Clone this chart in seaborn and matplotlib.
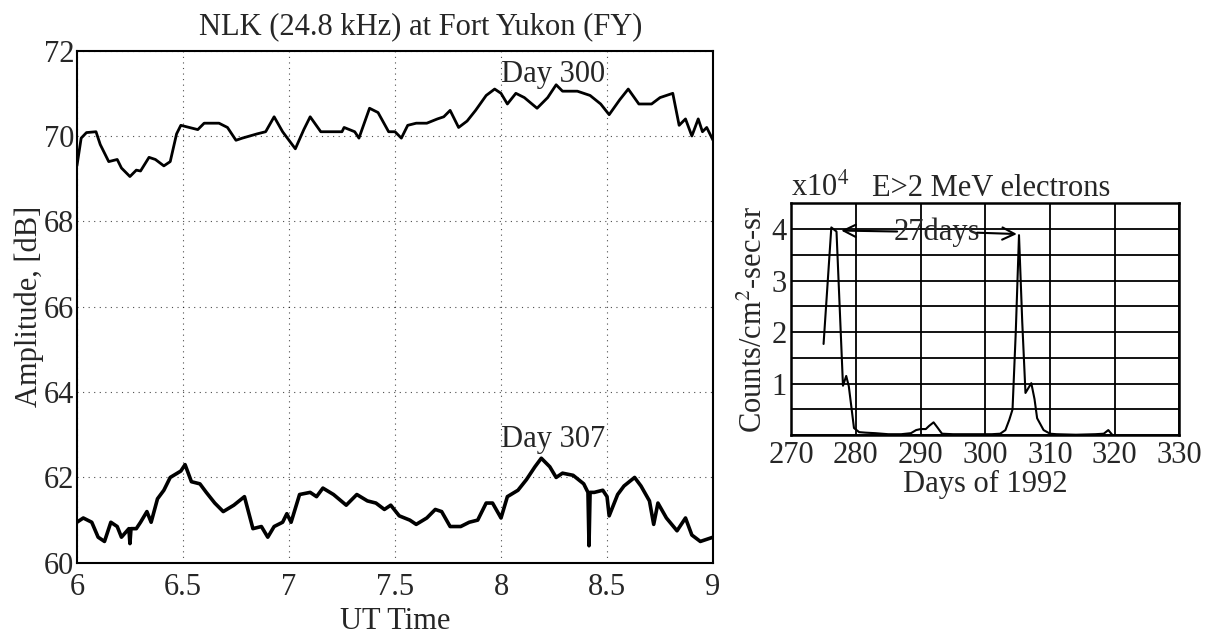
import numpy as np
import pandas as pd
import matplotlib
matplotlib.use('Agg')
import matplotlib.pyplot as plt
import seaborn as sns

# NLK amplitude at Fort Yukon, day 300 (UT hours, dB)
t300 = [6.0, 6.02, 6.045, 6.09, 6.11, 6.15, 6.19, 6.21, 6.25, 6.28, 6.3, 6.34, 6.37, 6.41,
        6.44, 6.47, 6.49, 6.53, 6.57, 6.6, 6.67, 6.71, 6.75, 6.78, 6.85, 6.89, 6.93, 6.97,
        7.0, 7.03, 7.07, 7.1, 7.15, 7.21, 7.25, 7.26, 7.31, 7.33, 7.38, 7.42, 7.47, 7.5,
        7.53, 7.56, 7.6, 7.65, 7.7, 7.73, 7.76, 7.8, 7.84, 7.88, 7.93, 7.97, 8.0, 8.03,
        8.07, 8.11, 8.17, 8.22, 8.26, 8.29, 8.36, 8.42, 8.47, 8.51, 8.56, 8.6, 8.65, 8.71,
        8.75, 8.81, 8.84, 8.87, 8.9, 8.93, 8.95, 8.97, 9.0]
a300 = [69.3, 69.95, 70.08, 70.1, 69.8, 69.4, 69.45, 69.25, 69.05, 69.2, 69.18, 69.5, 69.45, 69.3,
        69.4, 70.05, 70.25, 70.2, 70.15, 70.3, 70.3, 70.2, 69.9, 69.95, 70.05, 70.1, 70.45, 70.1,
        69.9, 69.7, 70.15, 70.45, 70.1, 70.1, 70.1, 70.2, 70.1, 69.95, 70.65, 70.55, 70.1, 70.1,
        69.95, 70.25, 70.3, 70.3, 70.4, 70.45, 70.6, 70.2, 70.35, 70.6, 70.95, 71.1, 71.0, 70.75,
        71.0, 70.9, 70.65, 70.9, 71.2, 71.05, 71.05, 70.95, 70.75, 70.5, 70.85, 71.1, 70.75, 70.75,
        70.9, 71.0, 70.25, 70.4, 70.0, 70.4, 70.1, 70.2, 69.9]

# day 307
t307 = [6.0, 6.03, 6.07, 6.1, 6.13, 6.16, 6.19, 6.21, 6.245, 6.25, 6.255, 6.28, 6.3, 6.33,
        6.35, 6.38, 6.41, 6.44, 6.49, 6.51, 6.54, 6.58, 6.61, 6.65, 6.69, 6.74, 6.79, 6.83,
        6.87, 6.9, 6.93, 6.97, 6.99, 7.01, 7.05, 7.1, 7.13, 7.16, 7.21, 7.27, 7.32, 7.37,
        7.41, 7.45, 7.48, 7.52, 7.57, 7.6, 7.65, 7.69, 7.72, 7.76, 7.81, 7.85, 7.89, 7.93,
        7.96, 8.0, 8.03, 8.08, 8.12, 8.16, 8.19, 8.23, 8.26, 8.29, 8.34, 8.39, 8.41, 8.415,
        8.42, 8.44, 8.48, 8.5, 8.51, 8.55, 8.58, 8.63, 8.66, 8.7, 8.72, 8.74, 8.78, 8.83,
        8.87, 8.9, 8.94, 8.97, 9.0]
a307 = [60.95, 61.05, 60.95, 60.6, 60.5, 60.95, 60.85, 60.6, 60.8, 60.45, 60.8, 60.8, 60.95, 61.2,
        60.95, 61.5, 61.7, 62.0, 62.15, 62.3, 61.9, 61.85, 61.65, 61.4, 61.2, 61.35, 61.55, 60.8,
        60.85, 60.6, 60.85, 60.95, 61.15, 60.95, 61.6, 61.65, 61.55, 61.75, 61.6, 61.35, 61.6, 61.45,
        61.4, 61.25, 61.35, 61.1, 61.0, 60.9, 61.05, 61.25, 61.2, 60.85, 60.85, 60.95, 61.0, 61.4,
        61.4, 61.05, 61.55, 61.7, 61.95, 62.25, 62.45, 62.25, 62.0, 62.1, 62.05, 61.85, 61.65, 60.4,
        61.65, 61.65, 61.7, 61.55, 61.1, 61.6, 61.8, 62.0, 61.8, 61.45, 60.9, 61.4, 61.05, 60.75,
        61.05, 60.65, 60.5, 60.55, 60.6]

# E>2 MeV electron flux (x10^4 counts/cm^2-sec-sr)
days = [275.0, 276.2, 277.0, 278.0, 278.5, 278.9, 279.7, 280.5, 281.5, 283.0, 285.0, 287.0,
        288.5, 289.3, 290.0, 290.8, 291.3, 292.0, 292.6, 293.3, 295.0, 298.0, 301.0, 302.3,
        303.1, 303.7, 304.2, 304.7, 305.2, 305.7, 306.2, 307.1, 307.6, 308.0, 309.0, 310.0,
        311.0, 314.0, 317.0, 318.3, 319.0, 319.6]
flux = [1.77, 4.03, 3.95, 0.96, 1.15, 0.95, 0.14, 0.06, 0.05, 0.04, 0.02, 0.02,
        0.04, 0.1, 0.12, 0.12, 0.18, 0.25, 0.15, 0.03, 0.02, 0.02, 0.02, 0.03,
        0.1, 0.3, 0.5, 2.0, 3.88, 2.2, 0.82, 1.01, 0.7, 0.33, 0.1, 0.03,
        0.02, 0.01, 0.02, 0.03, 0.1, 0.01]

sns.set_style('white')
plt.rcParams['font.family'] = ['Liberation Serif', 'DejaVu Serif']
plt.rcParams['mathtext.fontset'] = 'stix'
plt.rcParams['xtick.direction'] = 'in'
plt.rcParams['ytick.direction'] = 'in'

fig = plt.figure(figsize=(12.21, 6.41), dpi=100)
ax1 = fig.add_axes([0.063, 0.122, 0.521, 0.799])
ax2 = fig.add_axes([0.648, 0.321, 0.318, 0.362])

fs = 22

# left panel
sns.lineplot(x=t300, y=a300, ax=ax1, color='black', linewidth=2.0, sort=False)
sns.lineplot(x=t307, y=a307, ax=ax1, color='black', linewidth=2.6, sort=False)
ax1.set_xlim(6, 9)
ax1.set_ylim(60, 72)
ax1.set_xticks(np.arange(6, 9.01, 0.5))
ax1.set_xticklabels(['6', '6.5', '7', '7.5', '8', '8.5', '9'])
ax1.set_yticks(np.arange(60, 72.1, 2))
ax1.tick_params(labelsize=fs, length=5, width=1, color='black')
ax1.tick_params(axis='x', pad=7)
ax1.tick_params(axis='y', pad=2)
ax1.grid(True, color='black', linestyle=(0, (1, 4)), linewidth=0.8, alpha=0.7)
for s in ax1.spines.values():
    s.set_color('black')
    s.set_linewidth(1.5)
ax1.set_title('NLK (24.8 kHz) at Fort Yukon (FY)', fontsize=fs, pad=12, x=0.54)
ax1.set_xlabel('UT Time', fontsize=fs, labelpad=4)
ax1.set_ylabel('Amplitude, [dB]', fontsize=fs, labelpad=0)
ax1.text(8.0, 71.45, 'Day 300', fontsize=fs, va='center', ha='left')
ax1.text(8.0, 62.9, 'Day 307', fontsize=fs, va='center', ha='left')

# right panel
sns.lineplot(x=days, y=flux, ax=ax2, color='black', linewidth=1.5, sort=False)
ax2.set_xlim(270, 330)
ax2.set_ylim(0, 4.5)
ax2.set_xticks(np.arange(270, 331, 10))
ax2.set_yticks(np.arange(0, 4.51, 0.5))
ax2.set_yticklabels(['', '', '1', '', '2', '', '3', '', '4', ''])
ax2.tick_params(labelsize=fs, length=0)
ax2.tick_params(axis='x', pad=4)
ax2.tick_params(axis='y', pad=3)
ax2.grid(True, color='black', linestyle='-', linewidth=1.3)
for s in ax2.spines.values():
    s.set_color('black')
    s.set_linewidth(1.8)
ax2.set_xlabel('Days of 1992', fontsize=fs, labelpad=0)
ax2.set_ylabel('Counts/cm$^2$-sec-sr', fontsize=fs, labelpad=2)
ax2.text(0.0, 1.0, 'x10$^4$', transform=ax2.transAxes, fontsize=fs, ha='left', va='bottom')
ax2.text(0.515, 1.0, 'E>2 MeV electrons', transform=ax2.transAxes, fontsize=fs,
         ha='center', va='bottom')
ax2.text(292.5, 3.94, '27days', fontsize=fs, ha='center', va='center')
ax2.annotate('', xy=(277.3, 3.97), xytext=(286.8, 3.95),
             arrowprops=dict(arrowstyle='->', color='black', lw=1.5, mutation_scale=22))
ax2.annotate('', xy=(305.3, 3.9), xytext=(298.3, 3.93),
             arrowprops=dict(arrowstyle='->', color='black', lw=1.5, mutation_scale=22))

fig.savefig('out.png', dpi=100)
